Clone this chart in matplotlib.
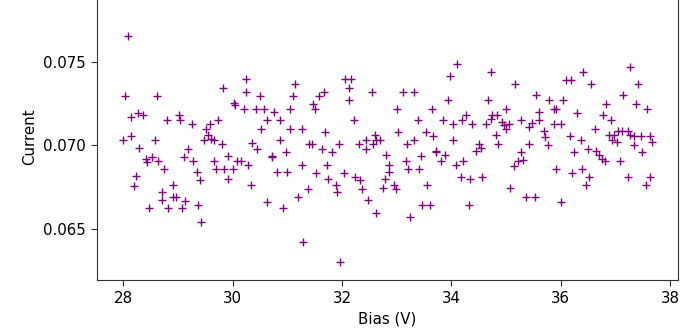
import matplotlib
matplotlib.use("Agg")
import matplotlib.pyplot as plt

bias = [
    28.08, 28.03, 28.61, 28.14, 28.27, 28.36, 28.80, 29.01, 29.03, 29.25,
    28.00, 28.14, 28.58, 28.28, 28.41, 28.44, 28.53, 28.63, 28.75, 29.19,
    29.11, 29.28, 28.23, 28.19, 28.91, 28.70, 28.90, 28.97, 28.70, 29.13,
    28.47, 28.82, 29.08, 29.37, 29.42, 29.34, 29.40,
    29.83, 30.24, 30.24, 30.03, 30.04, 30.20, 30.42, 30.57, 30.50, 30.76,
    31.14, 31.10, 31.05, 30.62, 30.87, 30.51, 31.05, 29.73, 29.59, 29.51,
    29.54, 29.60, 29.47, 29.66, 29.81, 30.86, 30.36, 30.45, 30.97, 30.71,
    30.72, 29.66, 29.92, 30.07, 30.15, 30.28, 29.69, 29.84, 30.00, 29.92,
    30.34, 30.81, 30.99, 30.62, 30.91,
    32.05, 32.16, 32.12, 32.12, 32.54, 31.67, 31.57, 31.46, 31.51, 32.22,
    31.26, 31.69, 31.39, 31.45, 31.63, 31.82, 31.95, 32.30, 32.43, 32.43,
    32.60, 32.62, 32.69, 32.57, 32.81, 32.86, 32.85, 32.79, 32.75, 32.95,
    31.26, 31.73, 31.52, 32.04, 31.75, 31.88, 31.90, 32.24, 32.32, 32.36,
    31.37, 31.20, 32.48, 32.62, 31.28, 31.96,
    34.11, 33.97, 33.12, 33.32, 33.94, 33.00, 33.65, 33.38, 33.84, 34.02,
    34.20, 34.26, 34.38, 34.66, 34.64, 33.02, 33.53, 33.66, 33.18, 33.32,
    34.02, 33.71, 33.72, 33.45, 33.16, 33.21, 33.41, 33.88, 33.80, 34.22,
    34.08, 34.44, 34.50, 34.54, 34.18, 34.33, 34.55, 33.55, 32.98, 33.47,
    33.61, 34.32, 33.24,
    34.72, 35.16, 35.54, 35.00, 34.75, 34.84, 34.72, 34.92, 34.96, 35.05,
    34.99, 35.27, 35.42, 35.48, 35.60, 35.61, 35.78, 35.88, 35.92, 36.04,
    35.88, 36.00, 36.09, 36.18, 36.41, 36.29, 34.81, 34.86, 35.41, 35.69,
    35.71, 35.77, 35.28, 35.31, 35.21, 35.14, 35.91, 36.16, 36.36, 36.24,
    36.20, 36.38, 35.07, 35.36, 35.53, 36.00,
    36.56, 37.26, 37.41, 37.13, 36.83, 37.37, 37.58, 36.78, 36.92, 36.62,
    36.88, 36.94, 36.97, 37.02, 37.05, 37.11, 37.22, 37.26, 37.34, 37.34,
    37.46, 37.64, 37.66, 37.49, 37.08, 36.49, 36.64, 36.70, 36.76, 36.80,
    36.52, 36.46, 37.22, 37.64, 37.56,
]

current = [
    0.0766, 0.0730, 0.0730, 0.07171, 0.07197, 0.07181, 0.07151, 0.07185, 0.07151, 0.07131,
    0.0703, 0.07054, 0.0703, 0.06984, 0.0692, 0.0690, 0.06929, 0.06909, 0.06859, 0.0698,
    0.06929, 0.06909, 0.06815, 0.06758, 0.06763, 0.06718, 0.06692, 0.06692, 0.06672, 0.06668,
    0.06621, 0.06621, 0.06621, 0.06642, 0.06541, 0.06839, 0.06789,
    0.07346, 0.07397, 0.07322, 0.07254, 0.07242, 0.07222, 0.07222, 0.07222, 0.07298, 0.07201,
    0.07367, 0.07298, 0.07222, 0.07151, 0.07151, 0.07101, 0.07101, 0.07151, 0.07131, 0.07101,
    0.0706, 0.0704, 0.0703, 0.0703, 0.0701, 0.0703, 0.07016, 0.06976, 0.0696, 0.06935,
    0.0693, 0.06909, 0.06935, 0.06909, 0.06909, 0.06883, 0.06859, 0.06859, 0.06859, 0.06795,
    0.06763, 0.06839, 0.06839, 0.06662, 0.06621,
    0.07397, 0.07397, 0.07346, 0.07272, 0.07322, 0.07322, 0.07298, 0.07252, 0.07222, 0.07151,
    0.07101, 0.0708, 0.07006, 0.0701, 0.0698, 0.0696, 0.0701, 0.07006, 0.0703, 0.0698,
    0.0706, 0.0703, 0.0703, 0.07006, 0.0694, 0.06883, 0.06839, 0.06795, 0.06742, 0.06763,
    0.06883, 0.06883, 0.06835, 0.06835, 0.06795, 0.06763, 0.06718, 0.06809, 0.06789, 0.06738,
    0.06738, 0.06688, 0.06672, 0.06591, 0.0642, 0.0630,
    0.07493, 0.07418, 0.07322, 0.07322, 0.07272, 0.07222, 0.07222, 0.07151, 0.07151, 0.07131,
    0.07151, 0.07181, 0.07131, 0.07272, 0.07131, 0.0708, 0.0708, 0.07054, 0.0701, 0.0703,
    0.0703, 0.06964, 0.0696, 0.06935, 0.06909, 0.06859, 0.06859, 0.0694, 0.06909, 0.06909,
    0.06883, 0.06964, 0.0701, 0.06984, 0.06809, 0.06795, 0.06809, 0.06763, 0.06738, 0.06642,
    0.06642, 0.06642, 0.06571,
    0.07443, 0.07367, 0.07302, 0.07222, 0.07181, 0.07185, 0.07161, 0.07141, 0.07121, 0.07131,
    0.07101, 0.07151, 0.0711, 0.07135, 0.07201, 0.07151, 0.07272, 0.07222, 0.07222, 0.07272,
    0.07131, 0.07131, 0.07393, 0.07393, 0.07443, 0.07197, 0.0706, 0.0701, 0.0701, 0.07085,
    0.0705, 0.07004, 0.0696, 0.06915, 0.06909, 0.06879, 0.06859, 0.07054, 0.0703, 0.0696,
    0.06835, 0.06859, 0.06742, 0.06688, 0.06688, 0.06662,
    0.07367, 0.07473, 0.07367, 0.07302, 0.07248, 0.07248, 0.07222, 0.07181, 0.07151, 0.07101,
    0.0706, 0.0703, 0.0706, 0.0702, 0.07085, 0.07085, 0.07085, 0.0706, 0.07054, 0.07004,
    0.07054, 0.07054, 0.0702, 0.0696, 0.06909, 0.0698, 0.06964, 0.0694, 0.0692, 0.06909,
    0.06809, 0.06763, 0.06809, 0.06809, 0.06763,
]

x_label = "Bias (V)"
y_label = "Current"
x_ticks = [28, 30, 32, 34, 36, 38]
y_ticks = [0.065, 0.070, 0.075]

fig = plt.figure(figsize=(6.81, 3.32), dpi=100)
ax = fig.add_axes([0.1424, 0.1566, 0.8532, 0.8657])
ax.scatter(bias, current, marker="+", color="purple", s=36, linewidths=1.0)
ax.set_ylim(0.0619, 0.0792)
ax.set_xticks(x_ticks)
ax.set_yticks(y_ticks)
ax.tick_params(labelsize=10.8, length=4.5, color="#333333")
for s in ax.spines.values():
    s.set_color("#333333")
ax.set_xlabel(x_label, fontsize=10.8)
ax.set_ylabel(y_label, fontsize=10.8)
fig.savefig("out.png", dpi=100)
